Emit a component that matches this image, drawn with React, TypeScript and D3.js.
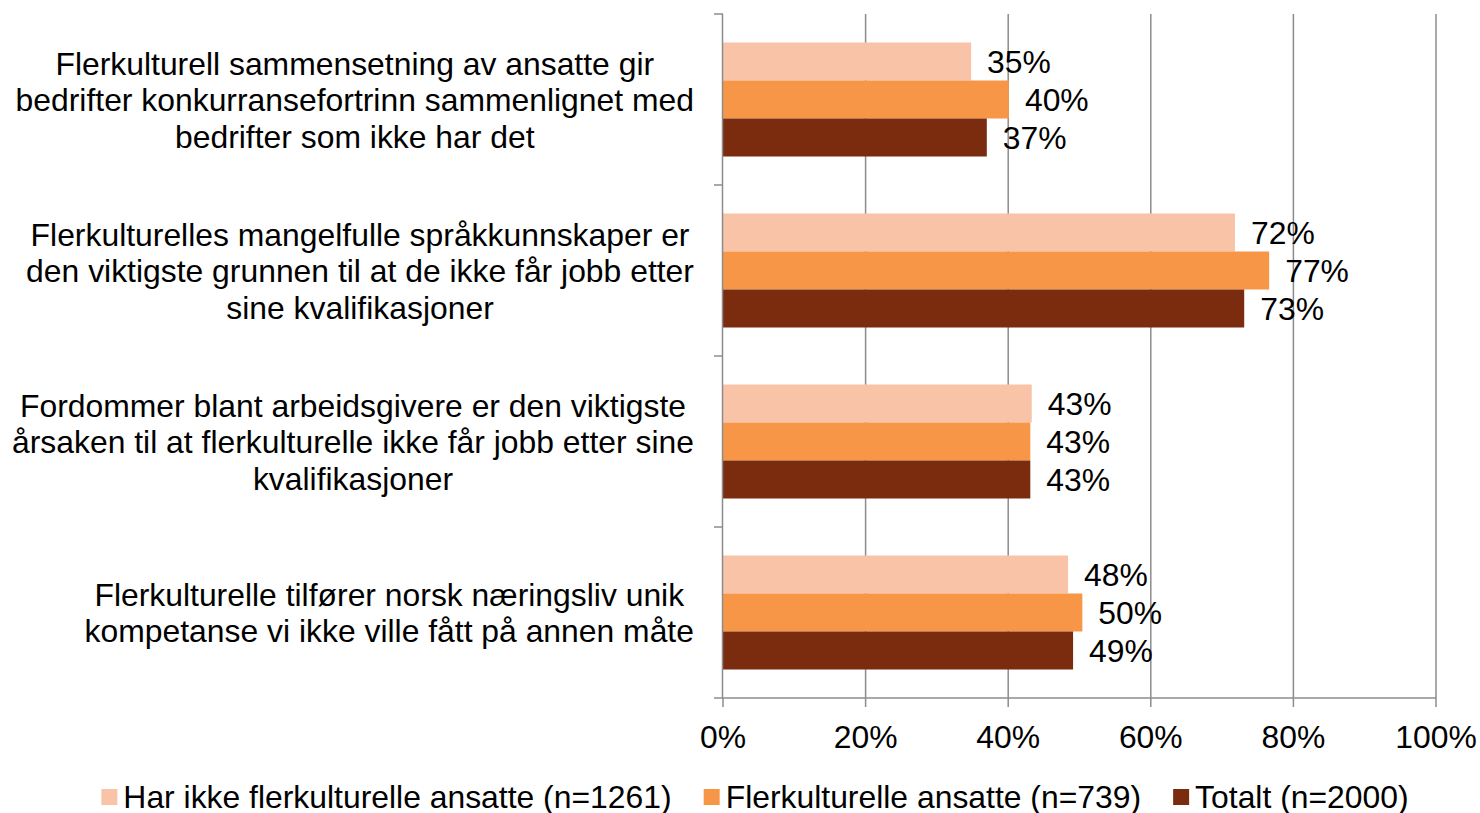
import { useMemo } from "react";
import * as d3 from "d3";

const WIDTH = 1480;
const HEIGHT = 813;
const MARGIN = { top: 14, right: 44, bottom: 115, left: 723 };
const FONT = "'Liberation Sans', Arial, sans-serif";
const FONT_SIZE = 30.5;
const SX = 1.045; // the original text is a bit wider than plain Arial
const DY = 1; // nudge text down, central baseline sits a hair high

// category labels, already broken in lines like the original
const categories = [
  ["Flerkulturell sammensetning av ansatte gir", "bedrifter konkurransefortrinn sammenlignet med", "bedrifter som ikke har det"],
  ["Flerkulturelles mangelfulle språkkunnskaper er", "den viktigste grunnen til at de ikke får jobb etter", "sine kvalifikasjoner"],
  ["Fordommer blant arbeidsgivere er den viktigste", "årsaken til at flerkulturelle ikke får jobb etter sine", "kvalifikasjoner"],
  ["Flerkulturelle tilfører norsk næringsliv unik", "kompetanse vi ikke ville fått på annen måte"],
];
const seriesNames = ["Har ikke flerkulturelle ansatte (n=1261)", "Flerkulturelle ansatte (n=739)", "Totalt (n=2000)"];
const harIkke = [34.8, 71.8, 43.3, 48.4];
const flerkulturelle = [40.1, 76.6, 43.1, 50.4];
const totalt = [37.0, 73.1, 43.1, 49.1];
const xTicks = [0, 20, 40, 60, 80, 100];
const colors = ["#F9C3A8", "#F79646", "#7B2C0E"];

const GRID = "#8C8C8C";

const measure = (() => {
  const ctx = document.createElement("canvas").getContext("2d");
  return (s: string) => {
    if (!ctx) return s.length * FONT_SIZE * 0.5 * SX;
    ctx.font = `${FONT_SIZE}px 'Liberation Sans', Arial, sans-serif`;
    return ctx.measureText(s).width * SX;
  };
})();

const Txt = ({ x, y, anchor = "start", children }: { x: number; y: number; anchor?: string; children: any }) => (
  <g transform={`translate(${x},${y + DY}) scale(${SX},1)`}>
    <text textAnchor={anchor} dominantBaseline="central" fill="#000">
      {children}
    </text>
  </g>
);

export default function App() {
  const x0 = MARGIN.left;
  const x1 = WIDTH - MARGIN.right;
  const y0 = MARGIN.top;
  const y1 = HEIGHT - MARGIN.bottom;

  const series = [harIkke, flerkulturelle, totalt];

  const xScale = useMemo(() => d3.scaleLinear().domain([0, 100]).range([x0, x1]), []);
  const yScale = useMemo(
    () => d3.scaleBand<number>().domain(d3.range(categories.length)).range([y0, y1]).padding(0),
    []
  );
  const inner = useMemo(
    () => d3.scaleBand<number>().domain([0, 1, 2]).range([0, yScale.bandwidth()]).paddingInner(0).paddingOuter(0.75),
    [yScale]
  );

  const lineH = 36.5;

  // legend layout
  const sq = 16;
  const legendItems = seriesNames.map((n) => ({ name: n, w: sq + 6 + measure(n) }));
  const legendGap = 32;
  const legendTotal = d3.sum(legendItems, (d) => d.w) + legendGap * (legendItems.length - 1);
  let lx = 755 - legendTotal / 2;
  const legendPos = legendItems.map((d) => {
    const p = lx;
    lx += d.w + legendGap;
    return p;
  });
  const legendY = 797;

  return (
    <svg
      width={WIDTH}
      height={HEIGHT}
      style={{ position: "absolute", left: 0, top: 0, background: "#fff" }}
      fontFamily={FONT}
      fontSize={FONT_SIZE}
    >
      {/* gridlines */}
      {xTicks.slice(1).map((t) => (
        <line key={t} x1={xScale(t)} x2={xScale(t)} y1={y0} y2={y1} stroke={GRID} strokeWidth={1.5} />
      ))}

      {/* bars */}
      {categories.map((_, ci) =>
        series.map((s, si) => {
          const y = (yScale(ci) ?? 0) + (inner(si) ?? 0);
          return (
            <g key={`${ci}-${si}`}>
              <rect
                x={xScale(0)}
                y={y}
                width={xScale(s[ci]) - xScale(0)}
                height={inner.bandwidth()}
                fill={colors[si]}
              />
              <Txt x={xScale(s[ci]) + 16} y={y + inner.bandwidth() / 2}>
                {Math.round(s[ci])}%
              </Txt>
            </g>
          );
        })
      )}

      {/* y axis */}
      <line x1={x0 - 0.5} x2={x0 - 0.5} y1={y0} y2={y1} stroke={GRID} strokeWidth={1.5} />
      {d3.range(categories.length + 1).map((i) => {
        const y = i < categories.length ? yScale(i) ?? 0 : y1;
        return <line key={i} x1={x0 - 9} x2={x0} y1={y} y2={y} stroke={GRID} strokeWidth={1.5} />;
      })}

      {/* x axis */}
      <line x1={x0} x2={x1} y1={y1} y2={y1} stroke={GRID} strokeWidth={1.5} />
      {xTicks.map((t) => (
        <g key={t}>
          <line x1={xScale(t)} x2={xScale(t)} y1={y1} y2={y1 + 9} stroke={GRID} strokeWidth={1.5} />
          <Txt x={xScale(t)} y={737} anchor="middle">
            {t}%
          </Txt>
        </g>
      ))}

      {/* category labels */}
      {categories.map((lines, ci) => {
        const maxW = d3.max(lines, (l) => measure(l)) ?? 0;
        const cx = x0 - 29 - maxW / 2;
        const cy = (yScale(ci) ?? 0) + yScale.bandwidth() / 2 + DY;
        return (
          <g key={ci} transform={`translate(${cx},${cy}) scale(${SX},1)`}>
            <text textAnchor="middle" dominantBaseline="central">
              {lines.map((l, li) => (
                <tspan key={li} x={0} y={(li - (lines.length - 1) / 2) * lineH}>
                  {l}
                </tspan>
              ))}
            </text>
          </g>
        );
      })}

      {/* legend */}
      {legendItems.map((d, i) => (
        <g key={d.name} transform={`translate(${legendPos[i]},${legendY})`}>
          <rect x={0} y={-sq / 2} width={sq} height={sq} fill={colors[i]} />
          <Txt x={sq + 6} y={0}>
            {d.name}
          </Txt>
        </g>
      ))}
    </svg>
  );
}
